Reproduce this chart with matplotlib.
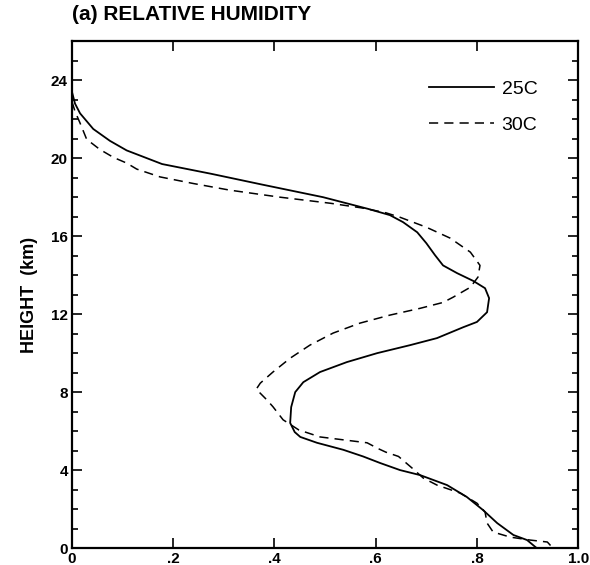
import numpy as np
import matplotlib
matplotlib.use("Agg")
import matplotlib.pyplot as plt
from matplotlib.ticker import MultipleLocator, FixedLocator

plt.rcParams['font.family'] = ['Liberation Sans', 'DejaVu Sans']
plt.rcParams['font.weight'] = 'bold'

# relative humidity profiles (fraction) vs height (km)
height_25 = [23.4, 22.8, 22.3, 21.5, 20.89, 20.4, 19.7, 19.2, 18.65, 18.0,
             17.4, 17.08, 16.72, 16.2, 15.64, 15.03, 14.5, 14.1, 13.7, 13.33,
             12.82, 12.1, 11.6, 11.33, 10.77, 10.41, 10.0, 9.54, 9.03, 8.51,
             8.0, 7.23, 6.42, 5.95, 5.7, 5.4, 5.04, 4.7, 4.36, 4.0,
             3.74, 3.23, 2.62, 1.95, 1.28, 0.67, 0.41, 0.15, 0.0]
rh_25 = [0.0, 0.006, 0.016, 0.042, 0.075, 0.108, 0.178, 0.275, 0.375, 0.496,
         0.585, 0.628, 0.654, 0.682, 0.70, 0.717, 0.733, 0.761, 0.793, 0.816,
         0.824, 0.82, 0.80, 0.773, 0.721, 0.668, 0.603, 0.543, 0.49, 0.457,
         0.441, 0.433, 0.431, 0.44, 0.451, 0.484, 0.536, 0.575, 0.609, 0.648,
         0.688, 0.741, 0.78, 0.812, 0.84, 0.872, 0.899, 0.911, 0.918]

height_30 = [22.9, 22.4, 21.8, 20.97, 20.45, 20.04, 19.75, 19.44, 19.04, 18.7,
             18.36, 18.0, 17.69, 17.44, 17.2, 16.97, 16.46, 15.9, 15.18, 14.5,
             13.9, 13.38, 12.87, 12.6, 12.3, 11.95, 11.54, 11.03, 10.41, 9.74,
             9.03, 8.46, 8.15, 7.6, 7.25, 6.58, 6.06, 5.7, 5.4, 5.1,
             4.92, 4.7, 4.1, 3.59, 3.23, 2.82, 2.3, 1.85, 1.28, 0.82,
             0.56, 0.41, 0.31, 0.0]
rh_30 = [0.0, 0.006, 0.016, 0.029, 0.055, 0.082, 0.108, 0.128, 0.174, 0.24,
         0.312, 0.411, 0.51, 0.575, 0.62, 0.648, 0.70, 0.747, 0.787, 0.806,
         0.802, 0.787, 0.753, 0.733, 0.688, 0.628, 0.569, 0.516, 0.47, 0.431,
         0.397, 0.372, 0.364, 0.385, 0.397, 0.417, 0.448, 0.49, 0.583, 0.605,
         0.62, 0.645, 0.672, 0.694, 0.721, 0.767, 0.80, 0.816, 0.82, 0.832,
         0.866, 0.905, 0.939, 0.95]

x_ticks = [0, 0.2, 0.4, 0.6, 0.8, 1.0]
x_labels = ['0', '.2', '.4', '.6', '.8', '1.0']
y_ticks = [0, 4, 8, 12, 16, 20, 24]

fig = plt.figure(figsize=(5.9, 5.65), dpi=100)
ax = fig.add_axes([0.122, 0.030, 0.858, 0.897])

ax.plot(rh_25, height_25, color='black', lw=1.3, label='25C')
ax.plot(rh_30, height_30, color='black', lw=1.1, linestyle=(0, (6, 4)), label='30C')

ax.set_xlim(0, 1.0)
ax.set_ylim(0, 26)
ax.xaxis.set_major_locator(FixedLocator(x_ticks))
ax.set_xticklabels(x_labels)
ax.yaxis.set_major_locator(FixedLocator(y_ticks))
ax.yaxis.set_minor_locator(MultipleLocator(1))

ax.tick_params(axis='both', which='both', direction='in', top=True, right=True,
               labelsize=11, width=1.2)
ax.tick_params(axis='x', which='major', length=7, pad=3)
ax.tick_params(axis='y', which='major', length=7, pad=3)
ax.tick_params(axis='y', which='minor', length=4)
for s in ax.spines.values():
    s.set_linewidth(1.6)

ax.set_ylabel('HEIGHT  (km)', fontsize=13, fontweight='bold', labelpad=9)
ax.text(0.0, 1.035, '(a) RELATIVE HUMIDITY', transform=ax.transAxes,
        fontsize=15, ha='left', va='bottom')

leg = ax.legend(loc='upper right', bbox_to_anchor=(0.954, 0.957), frameon=False,
                prop={'size': 14, 'weight': 'normal'}, handlelength=3.35,
                handletextpad=0.4, labelspacing=0.95)

fig.savefig('out.png', dpi=100)
